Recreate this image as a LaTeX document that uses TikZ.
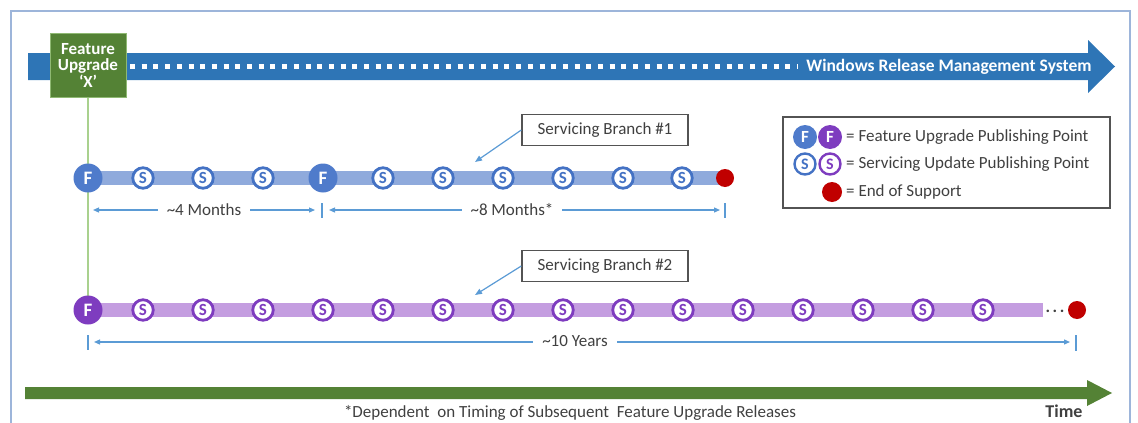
\documentclass[tikz,border=0pt]{standalone}
\usepackage{fontspec}
\setmainfont{Carlito}
\usetikzlibrary{arrows.meta,backgrounds}
\definecolor{wrms}{HTML}{2E75B6}
\definecolor{fgreen}{HTML}{548235}
\definecolor{lgreen}{HTML}{A9D18E}
\definecolor{bbar}{HTML}{8FAADC}
\definecolor{bdark}{HTML}{4472C4}
\definecolor{bfill}{HTML}{4F7BCB}
\definecolor{pbar}{HTML}{C49DE0}
\definecolor{pdark}{HTML}{7E3CBF}
\definecolor{eos}{HTML}{C00000}
\definecolor{dimc}{HTML}{5B9BD5}
\definecolor{txt}{HTML}{404040}
\definecolor{framec}{HTML}{9DB5DA}
\tikzset{
  fs/.style={font=\fontsize{17}{17}\selectfont},
  fcirc/.style={circle, inner sep=0pt, minimum size=29pt, fill=#1, text=white,
     font=\fontsize{19}{19}\selectfont\bfseries},
  scirc/.style={circle, inner sep=0pt, minimum size=20.5pt, draw=#1, line width=2.8pt,
     fill=white, text=#1, font=\fontsize{17}{17}\selectfont\bfseries},
  lfcirc/.style={circle, inner sep=0pt, minimum size=24pt, fill=#1, text=white,
     font=\fontsize{17}{17}\selectfont\bfseries},
  lscirc/.style={circle, inner sep=0pt, minimum size=21pt, draw=#1, line width=2.4pt,
     fill=white, text=#1, font=\fontsize{16}{16}\selectfont\bfseries},
  eosdot/.style={circle, inner sep=0pt, minimum size=18pt, fill=eos},
  dimboth/.style={draw=dimc, line width=1.2pt, {Triangle[length=6pt,width=5pt]}-{Triangle[length=6pt,width=5pt]}},
  tick/.style={draw=dimc, line width=1.4pt},
  dimlabel/.style={fill=white, text=txt, inner xsep=9pt, inner ysep=2pt, fs},
  callbox/.style={draw=txt!90, line width=1.4pt, fill=white, text=txt,
     minimum width=166pt, minimum height=31pt, inner sep=0pt, fs},
  callarrow/.style={draw=dimc, line width=1.2pt, -{Triangle[length=7pt,width=5.5pt]}},
  bluebar/.style={draw=bbar, line width=14pt},
  purplebar/.style={draw=pbar, line width=14pt},
  legtext/.style={anchor=west, text=txt, inner sep=0pt, fs},
}
\begin{document}
\begin{tikzpicture}[x=1pt,y=-1pt]
\useasboundingbox (0,0) rectangle (1138,423);
% frame
\draw[framec, line width=1.5pt] (11,424) -- (11,11) -- (1130,11) -- (1130,424);

% Windows release management arrow
\fill[wrms] (28,53) -- (1088,53) -- (1088,40) -- (1115,66.5) -- (1088,93) -- (1088,80) -- (28,80) -- cycle;
\draw[white, line width=5pt, dash pattern=on 5pt off 6.7pt] (130,66.5) -- (798,66.5);
\node[text=white, font=\fontsize{17.5}{17.5}\selectfont\bfseries, inner sep=0pt] (wrmslabel) at (949,66.5) {Windows Release Management System};

% Feature upgrade box
\node[fill=fgreen, draw=lgreen!70!fgreen, line width=1pt, minimum width=76pt, minimum height=64pt,
      inner sep=0pt, align=center, text=white, font=\fontsize{17}{16.5}\selectfont\bfseries] (fu) at (88,65)
      {Feature\\Upgrade\\‘X’};

% Branch 1
\node[fcirc=bfill] (b1f1) at (88,178) {F};
\foreach \i/\x in {1/143,2/203,3/263} {\node[scirc=bdark] (b1s\i) at (\x,178) {S};}
\node[fcirc=bfill] (b1f2) at (323,178) {F};
\foreach \i/\x in {4/383,5/443,6/503,7/563,8/623,9/682} {\node[scirc=bdark] (b1s\i) at (\x,178) {S};}
\node[eosdot] (b1end) at (725,178) {};

% Branch 2
\node[fcirc=pdark] (b2f1) at (88,310) {F};
\foreach \i in {0,...,14} {\pgfmathsetmacro{\xx}{143+60*\i}\node[scirc=pdark] (b2s\i) at (\xx,310) {S};}
\coordinate (b2barend) at (1043,310);
\node[eosdot] (b2end) at (1077,310) {};
\node[text=txt, font=\fontsize{17}{17}\selectfont\bfseries, inner sep=0pt] (b2dots) at (1055,311) {.\kern2.5pt.\kern2.5pt.};

\begin{scope}[on background layer]
  \draw[lgreen, line width=2pt] (fu.south) -- (b2f1.center);
  \draw[bluebar] (b1f1.center) -- (b1end.center);
  \draw[purplebar] (b2f1.center) -- (b2barend);
\end{scope}

% dimension lines branch 1
\coordinate (d1a) at (93,210);
\coordinate (d1b) at (315,210);
\coordinate (d1c) at (329,210);
\coordinate (d1d) at (720,210);
\draw[dimboth] (d1a) -- (d1b);
\draw[dimboth] (d1c) -- (d1d);
\coordinate (t1top) at (322,203); \coordinate (t1bot) at (322,218);
\draw[tick] (t1top) -- (t1bot);
\coordinate (t2top) at (725,203); \coordinate (t2bot) at (725,218);
\draw[tick] (t2top) -- (t2bot);
\node[dimlabel] (m4) at (204,210) {\textasciitilde 4 Months};
\node[dimlabel] (m8) at (512,210) {\textasciitilde 8 Months*};

% dimension line branch 2
\coordinate (d2a) at (94,342);
\coordinate (d2b) at (1070,342);
\draw[dimboth] (d2a) -- (d2b);
\coordinate (t3top) at (88,335); \coordinate (t3bot) at (88,350);
\draw[tick] (t3top) -- (t3bot);
\coordinate (t4top) at (1076,335); \coordinate (t4bot) at (1076,351);
\draw[tick] (t4top) -- (t4bot);
\node[dimlabel] (y10) at (575,341) {\textasciitilde 10 Years};

% callouts
\node[callbox] (cb1) at (605,130) {Servicing Branch \#1};
\coordinate (cb1tip) at (475,162);
\draw[callarrow] (cb1.west) -- (cb1tip);
\node[callbox] (cb2) at (605,266) {Servicing Branch \#2};
\coordinate (cb2tip) at (475,295);
\draw[callarrow] (cb2.west) -- (cb2tip);

% legend
\node[draw=txt!90, line width=1.4pt, minimum width=327pt, minimum height=91pt, inner sep=0pt] (leg) at (946.5,162.5) {};
\node[lfcirc=bfill] (lgf1) at (805,137) {F};
\node[lfcirc=pdark] (lgf2) at (830,137) {F};
\node[legtext] (lgt1) at (846,137) {= Feature Upgrade Publishing Point};
\node[lscirc=bdark] (lgs1) at (805,164) {S};
\node[lscirc=pdark] (lgs2) at (830,164) {S};
\node[legtext] (lgt2) at (846,164) {= Servicing Update Publishing Point};
\node[circle, fill=eos, minimum size=20pt, inner sep=0pt] (lgeos) at (832,192) {};
\node[legtext] (lgt3) at (846,192) {= End of Support};

% time arrow
\fill[fgreen] (25,387) -- (1087,387) -- (1087,380) -- (1112,393) -- (1087,406) -- (1087,399) -- (25,399) -- cycle;
\node[text=txt, font=\fontsize{18}{18}\selectfont\bfseries, inner sep=0pt] (time) at (1064,411) {Time};
\node[text=txt, inner sep=0pt, fs] (foot) at (570,413) {*Dependent\hspace{4pt} on Timing of Subsequent\hspace{4pt} Feature Upgrade Releases};
\end{tikzpicture}
\end{document}
